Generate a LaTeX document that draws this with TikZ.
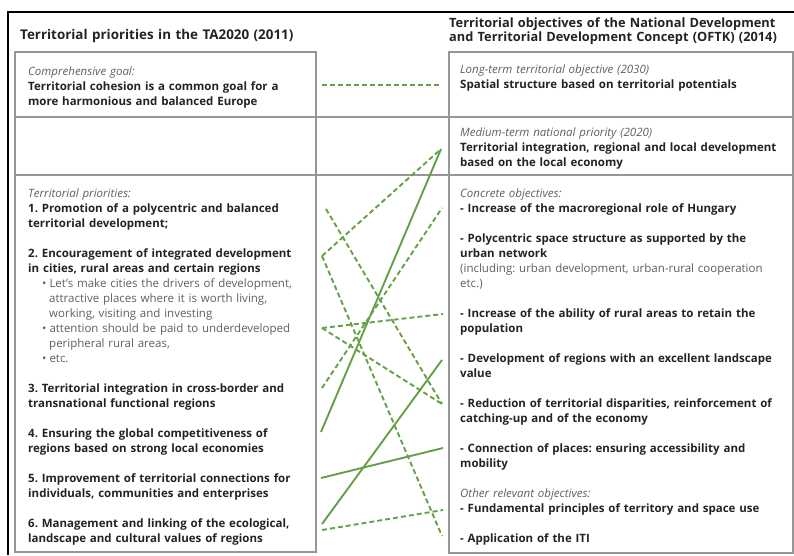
\documentclass[tikz,border=0pt]{standalone}
\usepackage{fontspec}
\setmainfont{Open Sans}
\usepackage{xcolor}
\definecolor{linkgreen}{RGB}{100,160,70}
\definecolor{boxgray}{RGB}{150,150,150}
\definecolor{notegray}{RGB}{95,95,95}
\definecolor{textdark}{RGB}{35,35,35}
\frenchspacing

\tikzset{
  box/.style={draw=boxgray, line width=1.1pt},
  tie/.style={linkgreen, line width=1.9pt},
  loose/.style={tie, dash pattern=on 5pt off 3pt},
  head/.style={anchor=base west, inner sep=0pt, align=left, text width=345pt,
    text=textdark, font=\fontsize{12.8}{14}\selectfont\bfseries},
  block/.style={anchor=base west, inner sep=0pt, align=left, text width=345pt,
    text=textdark, font=\fontsize{11.5}{15}\selectfont\bfseries},
}
\newcommand{\lbl}[1]{{\mdseries\itshape\color{notegray}#1}}
\newcommand{\aside}[1]{{\mdseries\color{notegray}#1}}

\begin{document}
\begin{tikzpicture}[x=1pt, y=-1pt]
    \useasboundingbox (0,0) rectangle (794,555);

    % Outer frame (cut at right and bottom)
    \draw[line width=2.5pt] (8,555) -- (8,12) -- (794,12);

    % The two columns and the row dividers
    \draw[box] (15,52) rectangle (316,552);
    \draw[box] (449,52) rectangle (793,553);
    \draw[box] (15,117) -- (793,117);
    \draw[box] (15,175) -- (793,175);

    % Column headings
    \node[head, font=\fontsize{13.4}{14}\selectfont\bfseries] (lefthead) at (20,39)
      {Territorial priorities in the TA2020 (2011)};
    \node[head] (righthead) at (449,27) {Territorial objectives of the National Development\\
      and Territorial Development Concept (OFTK) (2014)};

    % Left column
    \node[block] (goal) at (28,75) {\lbl{Comprehensive goal:}\\
      Territorial cohesion is a common goal for a\\
      more harmonious and balanced Europe};
    \node[block] (priorities) at (28,197) {\lbl{Territorial priorities:}\\
      1. Promotion of a polycentric and balanced\\
      territorial development;\\[15pt]
      2. Encouragement of integrated development\\
      in cities, rural areas and certain regions\\
      \aside{\hspace*{14pt}•\hspace{3pt}Let’s make cities the drivers of development,}\\
      \aside{\hspace*{21pt}attractive places where it is worth living,}\\
      \aside{\hspace*{21pt}working, visiting and investing}\\
      \aside{\hspace*{14pt}•\hspace{3pt}attention should be paid to underdeveloped}\\
      \aside{\hspace*{21pt}peripheral rural areas,}\\
      \aside{\hspace*{14pt}•\hspace{3pt}etc.}\\[15pt]
      3. Territorial integration in cross-border and\\
      transnational functional regions\\[15pt]
      4. Ensuring the global competitiveness of\\
      regions based on strong local economies\\[15pt]
      5. Improvement of territorial connections for\\
      individuals, communities and enterprises\\[15pt]
      6. Management and linking of the ecological,\\
      landscape and cultural values of regions};

    % Right column
    \node[block] (longterm) at (460,73) {\lbl{Long-term territorial objective (2030)}\\
      Spatial structure based on territorial potentials};
    \node[block] (midterm) at (460,136) {\lbl{Medium-term national priority (2020)}\\
      Territorial integration, regional and local development\\
      based on the local economy};
    \node[block] (objectives) at (460,197) {\lbl{Concrete objectives:}\\
      - Increase of the macroregional role of Hungary\\[15pt]
      - Polycentric space structure as supported by the\\
      urban network\\
      \aside{(including: urban development, urban-rural cooperation}\\
      \aside{etc.)}\\[15pt]
      - Increase of the ability of rural areas to retain the\\
      population\\[15pt]
      - Development of regions with an excellent landscape\\
      value\\[15pt]
      - Reduction of territorial disparities, reinforcement of\\
      catching-up and of the economy\\[15pt]
      - Connection of places: ensuring accessibility and\\
      mobility\\[15pt]
      \lbl{Other relevant objectives:}\\
      - Fundamental principles of territory and space use\\[15pt]
      - Application of the ITI};

    % Ends of the links, left side
    \coordinate (goalL) at (322,85);
    \coordinate (pri1) at (326,209);
    \coordinate (pri2) at (322,256);
    \coordinate (pri2b) at (322,328);
    \coordinate (pri3) at (322,388);
    \coordinate (pri4) at (321,432);
    \coordinate (pri5) at (321,478);
    \coordinate (pri6) at (322,524);
    \coordinate (pri6b) at (322,530);

    % Ends of the links, right side
    \coordinate (goalR) at (441,85);
    \coordinate (mid) at (441,149);
    \coordinate (obj1) at (442,208);
    \coordinate (obj3) at (443,314);
    \coordinate (obj4) at (442,360);
    \coordinate (obj5) at (442,404);
    \coordinate (obj6) at (443,448);
    \coordinate (oth1) at (443,510);
    \coordinate (oth2) at (442,536);

    % Weak links
    \draw[loose] (goalL) -- (goalR);
    \draw[loose] (pri2) -- (mid);
    \draw[loose] (pri1) -- (obj5);
    \draw[loose] (pri2) -- (oth2);
    \draw[loose] (pri3) -- (obj1);
    \draw[loose] (pri2b) -- (obj3);
    \draw[loose] (pri2b) -- (obj5);
    \draw[loose] (pri6b) -- (oth1);

    % Strong links
    \draw[tie] (pri4) -- (mid);
    \draw[tie] (pri6) -- (obj4);
    \draw[tie] (pri5) -- (obj6);

\end{tikzpicture}
\end{document}
